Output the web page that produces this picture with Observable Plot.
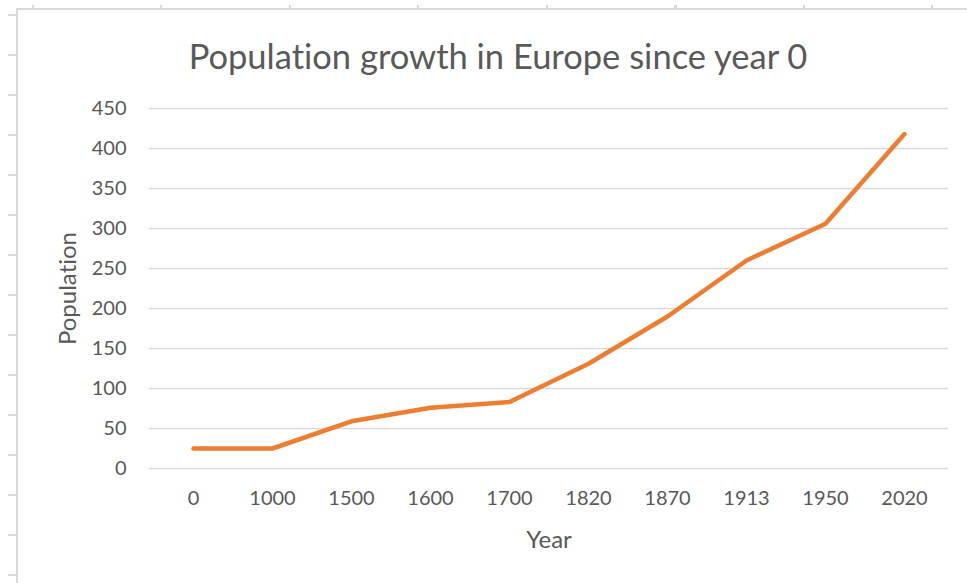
<!DOCTYPE html>
<html>
<head>
<meta charset="utf-8">
<script src="https://cdn.jsdelivr.net/npm/d3@7"></script>
<script src="https://cdn.jsdelivr.net/npm/@observablehq/plot@0.6"></script>
<style>
  html, body { margin: 0; padding: 0; background: #fff; }
  #wrap { position: relative; width: 967px; height: 583px; overflow: hidden; }
  #frameL { position: absolute; left: 16px; top: 9px; width: 2px; height: 580px; background: #d9d9d9; }
  #frameT { position: absolute; left: 16px; top: 8px; width: 960px; height: 2px; background: #d9d9d9; }
  #ticksL { position: absolute; left: 8px; top: 14px; width: 9px; height: 575px;
    background: repeating-linear-gradient(to bottom, #d9d9d9 0 2px, transparent 2px 40px); }
  #ticksT { position: absolute; left: 32px; top: 5px; width: 940px; height: 4px;
    background: repeating-linear-gradient(to right, #d9d9d9 0 2px, transparent 2px 128.5px); }
  #chart { position: absolute; left: 0; top: 0; }
  #chart svg text { font-variant-ligatures: none; }
</style>
</head>
<body>
<div id="wrap">
  <div id="ticksL"></div>
  <div id="ticksT"></div>
  <div id="frameL"></div>
  <div id="frameT"></div>
  <div id="chart"></div>
</div>
<script>
const years = ["0", "1000", "1500", "1600", "1700", "1820", "1870", "1913", "1950", "2020"];
const population = [25, 25, 59, 76, 83, 131, 190, 260, 306, 418];
const yTicks = [0, 50, 100, 150, 200, 250, 300, 350, 400, 450];
const titleText = ["Population growth in Europe since year 0"];
const xTitle = ["Year"];
const yTitle = ["Population"];

const data = years.map((y, i) => ({year: y, value: population[i]}));
const font = "Lato, 'Open Sans', sans-serif";
const textColor = "#595959";

const plot = Plot.plot({
  width: 967,
  height: 583,
  marginLeft: 149,
  marginRight: 19,
  marginTop: 108,
  marginBottom: 115,
  style: { fontFamily: font, color: textColor, background: "transparent" },
  x: { type: "point", domain: years, padding: 0.5 },
  y: { domain: [0, 450] },
  marks: [
    Plot.ruleY(yTicks, { stroke: "#d9d9d9", strokeWidth: 1.5 }),
    Plot.axisY(yTicks, { tickSize: 0, tickPadding: 23, fontSize: 20, fill: textColor, label: null }),
    Plot.axisX({ tickSize: 0, tickPadding: 22, fontSize: 20, fill: textColor, label: null }),
    Plot.line(data, { x: "year", y: "value", stroke: "#ED7D31", strokeWidth: 4.5, strokeLinecap: "round", strokeLinejoin: "round" }),
    Plot.text(titleText, { text: d => d, frameAnchor: "top", dx: -51, dy: -51, fontSize: 34.5, fill: textColor, lineAnchor: "middle" }),
    Plot.text(xTitle, { text: d => d, frameAnchor: "bottom", dy: 72, fontSize: 24, fill: textColor, lineAnchor: "middle" }),
    Plot.text(yTitle, { text: d => d, frameAnchor: "left", dx: -81, rotate: -90, fontSize: 24, fill: textColor, textAnchor: "middle", lineAnchor: "middle" })
  ]
});
document.getElementById("chart").appendChild(plot);
</script>
</body>
</html>
